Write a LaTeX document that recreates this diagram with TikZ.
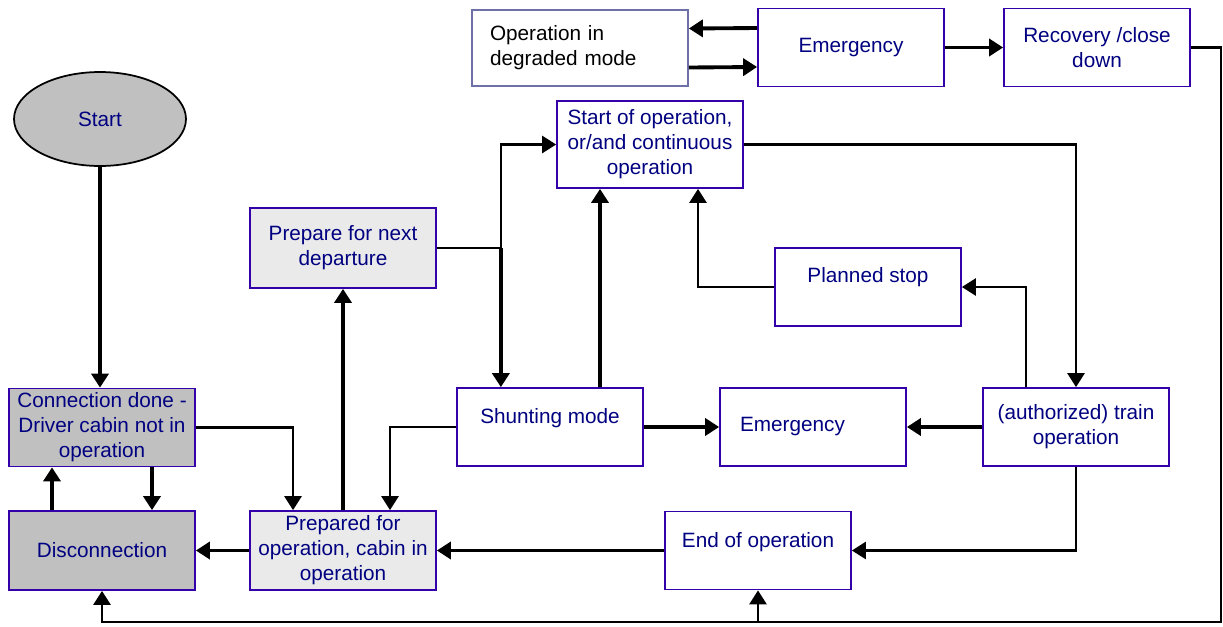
\documentclass[tikz,border=0pt]{standalone}
\usepackage{fontspec}
\setmainfont{Liberation Sans}
\usepackage{tikz}
\usepackage{xcolor}
\usetikzlibrary{shapes.geometric, arrows.meta, positioning, calc}
\definecolor{navytext}{RGB}{0, 0, 128}
\definecolor{boxline}{RGB}{51, 0, 170}
\definecolor{greyline}{RGB}{112, 112, 168}
\definecolor{darkfill}{RGB}{192, 192, 192}
\definecolor{lightfill}{RGB}{234, 234, 234}

\begin{document}
\begin{tikzpicture}[x=0.02cm, y=-0.02cm,
  >={Triangle[length=0.28cm, width=0.34cm]},
  state/.style={rectangle, draw=boxline, line width=1pt, fill=white,
                text=navytext, align=center, inner sep=2pt,
                minimum width=3.72cm, minimum height=1.56cm,
                font=\fontsize{11.8pt}{14.2pt}\selectfont},
  darkstate/.style={state, fill=darkfill},
  lightstate/.style={state, fill=lightfill},
  raised/.style={text depth=0.44cm},
  heavy/.style={->, line width=2.2pt},
  light/.style={->, line width=1.5pt}]

\useasboundingbox (0,0) rectangle (1223,626);

% Start and connection states
\node[ellipse, draw=black, line width=1pt, fill=darkfill, text=navytext,
      minimum width=3.44cm, minimum height=1.88cm,
      font=\fontsize{11.8pt}{14.2pt}\selectfont] (start) at (100,119) {Start};

\node[darkstate] (conn) at (102,427.5)
      {Connection done -\\Driver cabin not in\\operation};
\node[darkstate, minimum height=1.58cm] (disc) at (102,550.5) {Disconnection};

\node[lightstate, minimum height=1.58cm] (prepd) at (343,550.5)
      {Prepared for\\operation, cabin in\\operation};
\node[lightstate, minimum height=1.6cm] (prepnext) at (343,248)
      {Prepare for next\\departure};

% Operation states
\node[state, minimum height=1.74cm] (sop) at (650,144.5)
      {Start of operation,\\or/and continuous\\operation};
\node[state, text depth=0.47cm] (plan) at (868,287) {Planned stop};
\node[state, raised] (shunt) at (550,427) {Shunting mode};
\node[state, align=left, text width=2.92cm, inner xsep=0.4cm] (emmid) at (813,427)
      {Emergency};
\node[state] (train) at (1076,427) {(authorized) train\\operation};
\node[state, raised] (endop) at (758,550.5) {End of operation};

% Emergency row
\node[state, draw=greyline, text=black, align=left, text width=3.6cm,
      inner xsep=0.36cm, minimum width=4.32cm, minimum height=1.52cm] (degr) at (580,48)
      {Operation in\\degraded mode};
\node[state] (emtop) at (851,47.5) {Emergency};
\node[state] (recov) at (1097,47.5) {Recovery /close\\down};

\coordinate (fork) at ($(prepnext.east)+(64,0)$);
\coordinate (rim) at ($(recov.east)+(30,0)$);
\coordinate (floor) at (rim |- 0,622);

% Transitions
\draw[heavy] (start.south) -- (start.south |- conn.north);
\draw[light] (conn.east) -| ([xshift=-1cm]prepd.north);
\draw[heavy] ([xshift=1cm]conn.south) -- ([xshift=1cm]disc.north);
\draw[heavy] ([xshift=-1cm]disc.north) -- ([xshift=-1cm]conn.south);
\draw[heavy] (prepd) -- (disc);
\draw[heavy] (prepd) -- (prepnext);

\draw[light, -] (prepnext.east) -- (fork);
\draw[light] (fork) |- (sop.west);
\draw[heavy] (fork) -- (fork |- shunt.north);
\draw[heavy] ([xshift=1cm]shunt.north) -- ([xshift=-1cm]sop.south);
\draw[light] (plan.west) -| ([xshift=0.96cm]sop.south);
\draw[light] (sop.east) -| (train.north);
\draw[light] ([xshift=-1cm]train.north) |- (plan.east);
\draw[heavy] (train) -- (emmid);
\draw[heavy] (shunt) -- (emmid);
\draw[light] (shunt.west) -| ([xshift=0.94cm]prepd.north);
\draw[light] (train.south) |- (endop.east);
\draw[heavy] (endop) -- (prepd);

\draw[light] (recov.east) -- (rim) -- (floor) -| (disc.south);
\draw[light] (floor -| endop.south) -- (endop.south);

\draw[heavy] ([yshift=0.39cm]emtop.west) -- ([yshift=0.39cm]degr.east);
\draw[heavy] ([yshift=-0.39cm]degr.east) -- ([yshift=-0.39cm]emtop.west);
\draw[heavy] (emtop) -- (recov);

\end{tikzpicture}
\end{document}
